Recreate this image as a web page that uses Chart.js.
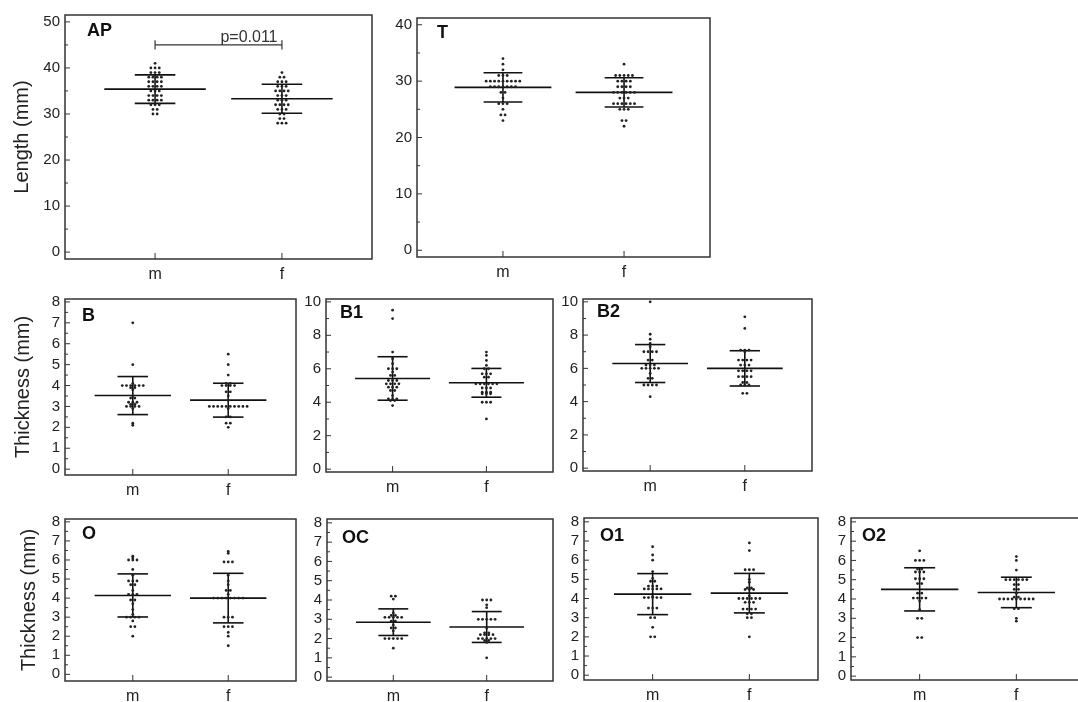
<!DOCTYPE html>
<html>
<head>
<meta charset="utf-8">
<script src="https://cdn.jsdelivr.net/npm/chart.js@4.4.1/dist/chart.umd.min.js"></script>
<style>
  body { margin: 0; background: #fff; width: 1078px; height: 702px; overflow: hidden; position: relative; }
  canvas { position: absolute; }
</style>
</head>
<body>
<script>
// groups on the x axis
const groups = ['m', 'f'];

// tick labels
const ticksLength = [0, 10, 20, 30, 40, 50];
const ticksT = [0, 10, 20, 30, 40];
const ticksB = [0, 1, 2, 3, 4, 5, 6, 7, 8];
const ticksB1 = [0, 2, 4, 6, 8, 10];
const ticksO = [0, 1, 2, 3, 4, 5, 6, 7, 8];

// AP
const apM = [41, 40, 40, 40, 39, 39, 39, 38, 38, 38, 38, 37, 37, 37, 37, 36, 36, 36, 36, 35, 35, 35, 34, 34, 34, 34, 33, 33, 33, 33, 32, 32, 32, 31, 31, 30, 30];
const apF = [39, 38, 38, 37, 37, 37, 36, 36, 36, 35, 35, 35, 35, 34, 34, 34, 33, 33, 33, 32, 32, 32, 32, 31, 31, 31, 30, 30, 29, 29, 28, 28, 28];
const apMean = [35.4, 33.3];
const apSD = [3.1, 3.15];
const apBracketY = 45;
const apP = 'p=0.011';

// T
const tM = [34, 33, 32, 31, 31, 31, 30, 30, 30, 30, 30, 30, 30, 30, 30, 29, 29, 29, 29, 29, 29, 29, 28, 28, 27, 26, 26, 26, 25, 24, 24, 23];
const tF = [33, 31, 31, 31, 31, 31, 30, 30, 30, 30, 29, 29, 29, 29, 28, 28, 28, 28, 28, 28, 27, 27, 27, 26, 26, 26, 26, 26, 26, 25, 25, 25, 23, 23, 22];
const tMean = [28.9, 28.0];
const tSD = [2.6, 2.6];

// B
const bM = [7.0, 5.0, 4.1, 4.0, 4.0, 4.0, 4.0, 4.0, 4.0, 3.9, 3.9, 3.8, 3.5, 3.4, 3.4, 3.2, 3.2, 3.2, 3.1, 3.1, 3.0, 3.0, 3.0, 3.0, 2.9, 2.2, 2.1];
const bF = [5.5, 5.0, 4.5, 4.1, 4.1, 4.0, 4.0, 4.0, 4.0, 3.7, 3.7, 3.5, 3.3, 3.0, 3.0, 3.0, 3.0, 3.0, 3.0, 3.0, 3.0, 3.0, 3.0, 2.9, 2.5, 2.5, 2.2, 2.2, 2.0];
const bMean = [3.52, 3.3];
const bSD = [0.91, 0.81];

// B1
const b1M = [9.5, 9.0, 7.0, 6.6, 6.3, 6.0, 6.0, 6.0, 5.8, 5.6, 5.6, 5.3, 5.3, 5.3, 5.1, 5.1, 5.1, 5.1, 4.9, 4.9, 4.9, 4.7, 4.7, 4.4, 4.2, 4.2, 4.2, 4.1, 4.1, 3.8];
const b1F = [7.0, 6.8, 6.5, 6.2, 6.0, 6.0, 5.7, 5.7, 5.7, 5.5, 5.5, 5.1, 5.1, 5.1, 5.1, 5.1, 5.1, 4.85, 4.85, 4.85, 4.6, 4.6, 4.6, 4.5, 4.5, 4.5, 4.0, 4.0, 4.0, 3.0];
const b1Mean = [5.42, 5.16];
const b1SD = [1.3, 0.86];

// B2
const b2M = [10.0, 8.05, 7.75, 7.5, 7.3, 7.0, 7.0, 7.0, 7.0, 6.5, 6.5, 6.2, 6.2, 6.2, 6.0, 6.0, 6.0, 6.0, 6.0, 5.7, 5.4, 5.4, 5.0, 5.0, 5.0, 5.0, 4.3];
const b2F = [9.1, 8.4, 7.1, 7.1, 7.1, 7.0, 6.5, 6.5, 6.5, 6.5, 6.2, 6.2, 6.2, 5.85, 5.85, 5.85, 5.85, 5.5, 5.5, 5.5, 5.5, 5.15, 5.15, 5.0, 5.0, 5.0, 4.5, 4.5];
const b2Mean = [6.29, 6.0];
const b2SD = [1.14, 1.06];

// O
const oM = [6.2, 6.1, 6.0, 6.0, 6.0, 5.5, 5.2, 4.9, 4.9, 4.9, 4.7, 4.7, 4.4, 4.2, 4.2, 4.2, 3.9, 3.9, 3.7, 3.4, 3.15, 3.0, 3.0, 3.0, 3.0, 2.8, 2.5, 2.5, 2.0];
const oF = [6.45, 6.35, 5.9, 5.9, 5.9, 5.2, 4.9, 4.7, 4.4, 4.4, 4.2, 4.0, 4.0, 4.0, 4.0, 4.0, 4.0, 4.0, 4.0, 3.0, 3.0, 3.0, 2.5, 2.5, 2.5, 2.2, 2.0, 1.5];
const oMean = [4.14, 4.0];
const oSD = [1.13, 1.3];

// OC
const ocM = [4.2, 4.2, 4.05, 3.33, 3.2, 3.2, 3.1, 3.1, 3.1, 3.1, 3.1, 2.9, 2.9, 2.7, 2.55, 2.55, 2.4, 2.0, 2.0, 2.0, 2.0, 2.0, 1.5];
const ocF = [4.0, 4.0, 4.0, 3.75, 3.6, 3.0, 3.0, 3.0, 3.0, 3.0, 2.55, 2.3, 2.3, 2.2, 2.2, 2.2, 2.2, 2.0, 2.0, 2.0, 2.0, 2.0, 1.9, 1.9, 1.8, 1.0];
const ocMean = [2.85, 2.6];
const ocSD = [0.69, 0.8];

// O1
const o1M = [6.7, 6.27, 6.0, 5.4, 5.05, 4.9, 4.9, 4.65, 4.65, 4.65, 4.5, 4.5, 4.5, 4.5, 4.5, 4.1, 4.05, 4.05, 4.05, 4.05, 4.05, 3.5, 3.5, 3.5, 3.0, 3.0, 2.5, 2.0, 2.0];
const o1F = [6.9, 6.5, 5.5, 5.5, 5.5, 5.0, 4.85, 4.55, 4.55, 4.47, 4.47, 4.47, 4.13, 4.0, 4.0, 4.0, 4.0, 4.0, 4.0, 3.8, 3.8, 3.8, 3.45, 3.45, 3.45, 3.45, 3.2, 3.2, 3.0, 3.0, 2.0];
const o1Mean = [4.23, 4.28];
const o1SD = [1.07, 1.03];

// O2
const o2M = [6.5, 6.0, 6.0, 6.0, 5.55, 5.55, 5.4, 5.4, 5.4, 5.05, 5.05, 5.05, 4.8, 4.8, 4.3, 4.3, 4.05, 4.05, 4.05, 4.05, 3.9, 3.45, 3.0, 3.0, 2.0, 2.0];
const o2F = [6.2, 6.0, 5.5, 5.0, 5.0, 5.0, 5.0, 5.0, 5.0, 4.75, 4.75, 4.5, 4.5, 4.3, 4.1, 4.1, 4.0, 4.0, 4.0, 4.0, 4.0, 4.0, 4.0, 4.0, 4.0, 3.5, 3.5, 3.0, 2.85];
const o2Mean = [4.5, 4.34];
const o2SD = [1.12, 0.79];

const X_MIN = 0.29, X_MAX = 2.71;
const DOT = 4.2; // px between dots of one row
const INK = '#222';
const FONT = "'Liberation Sans', Arial, sans-serif";

// frame = [left, top, right, bottom] in page pixels
const panels = [
    { label: 'AP', m: apM, f: apF, mean: apMean, sd: apSD, ticks: ticksLength, ymin: -1.5, ymax: 51.5, frame: [65, 9, 372, 259], axW: 65, title: 'Length (mm)', titlePad: 10, lab: [22, 16], note: true },
    { label: 'T', m: tM, f: tF, mean: tMean, sd: tSD, ticks: ticksT, ymin: -1.2, ymax: 41.2, frame: [417, 12, 710, 257], axW: 36, lab: [20, 15] },
    { label: 'B', m: bM, f: bF, mean: bMean, sd: bSD, ticks: ticksB, ymin: -0.28, ymax: 8.14, frame: [65, 293, 296, 475], axW: 65, title: 'Thickness (mm)', titlePad: 11, lab: [17, 17] },
    { label: 'B1', m: b1M, f: b1F, mean: b1Mean, sd: b1SD, ticks: ticksB1, ymin: -0.17, ymax: 10.17, frame: [326, 293, 553, 472], axW: 30, lab: [14, 14] },
    { label: 'B2', m: b2M, f: b2F, mean: b2Mean, sd: b2SD, ticks: ticksB1, ymin: -0.17, ymax: 10.17, frame: [583, 293, 812, 471], axW: 30, lab: [14, 13] },
    { label: 'O', m: oM, f: oF, mean: oMean, sd: oSD, ticks: ticksO, ymin: -0.35, ymax: 8.15, frame: [65, 513, 296, 681], axW: 65, title: 'Thickness (mm)', titlePad: 17, lab: [17, 15] },
    { label: 'OC', m: ocM, f: ocF, mean: ocMean, sd: ocSD, ticks: ticksO, ymin: -0.2, ymax: 8.2, frame: [327, 513, 553, 681], axW: 30, lab: [15, 19] },
    { label: 'O1', m: o1M, f: o1F, mean: o1Mean, sd: o1SD, ticks: ticksO, ymin: -0.25, ymax: 8.2, frame: [584, 512, 818, 680], axW: 30, lab: [16, 18] },
    { label: 'O2', m: o2M, f: o2F, mean: o2Mean, sd: o2SD, ticks: ticksO, ymin: -0.2, ymax: 8.2, frame: [851, 512, 1085, 680], axW: 30, lab: [11, 18] }
];

// dots with the same value sit side by side, centred on the group
const swarm = (vals, center, unitPx) => {
    const counts = {};
    const seen = {};
    vals.forEach(v => counts[v] = (counts[v] || 0) + 1);
    return vals.map(v => {
        seen[v] = seen[v] === undefined ? 0 : seen[v] + 1;
        return { x: center + (seen[v] - (counts[v] - 1) / 2) * DOT / unitPx, y: v };
    });
};

const seg = (x1, y1, x2, y2, w, color) => ({
    data: [{ x: x1, y: y1 }, { x: x2, y: y2 }],
    showLine: true,
    pointRadius: 0,
    borderColor: color || '#111',
    borderWidth: w || 1.6
});

const framePlugin = {
    id: 'frame',
    afterDraw(chart, args, opts) {
        const { ctx, chartArea: a, scales: { x, y } } = chart;
        ctx.save();
        ctx.strokeStyle = '#333';
        ctx.lineWidth = 1.5;
        ctx.strokeRect(a.left, a.top, a.right - a.left, a.bottom - a.top);
        ctx.lineWidth = 1;
        ctx.beginPath();
        const t = opts.ticks;
        t.forEach((v, i) => {
            const py = y.getPixelForValue(v);
            ctx.moveTo(a.left, py);
            ctx.lineTo(a.left + 5, py);
            if (i < t.length - 1) {
                const my = y.getPixelForValue((v + t[i + 1]) / 2);
                ctx.moveTo(a.left, my);
                ctx.lineTo(a.left + 3, my);
            }
        });
        [1, 2].forEach(v => {
            const px = x.getPixelForValue(v);
            ctx.moveTo(px, a.bottom);
            ctx.lineTo(px, a.bottom - 6);
        });
        ctx.stroke();

        ctx.fillStyle = '#111';
        ctx.font = 'bold 18px ' + FONT;
        ctx.textBaseline = 'middle';
        ctx.textAlign = 'left';
        ctx.fillText(opts.label, a.left + opts.lab[0], a.top + opts.lab[1]);

        if (opts.note) {
            ctx.font = '16px ' + FONT;
            ctx.fillStyle = '#333';
            ctx.textAlign = 'center';
            ctx.textBaseline = 'alphabetic';
            ctx.fillText(apP, x.getPixelForValue(1.74), y.getPixelForValue(apBracketY) - 3);
        }
        ctx.restore();
    }
};

const makePanel = (p) => {
    const [l, t, r, b] = p.frame;
    const padT = 8, padR = 6, axH = 30;
    const w = r - l + p.axW + padR;
    const h = b - t + padT + axH;
    const canvas = document.createElement('canvas');
    canvas.style.left = (l - p.axW) + 'px';
    canvas.style.top = (t - padT) + 'px';
    canvas.style.width = w + 'px';
    canvas.style.height = h + 'px';
    canvas.width = w;
    canvas.height = h;
    document.body.appendChild(canvas);

    const unitPx = (r - l) / (X_MAX - X_MIN);
    const datasets = [];
    [p.m, p.f].forEach((vals, i) => {
        datasets.push({
            data: swarm(vals, i + 1, unitPx),
            pointRadius: 1.4,
            pointBorderWidth: 0,
            pointBackgroundColor: INK,
            showLine: false
        });
    });
    p.mean.forEach((mu, i) => {
        const c = i + 1;
        const s = p.sd[i];
        datasets.push(seg(c - 0.4, mu, c + 0.4, mu));
        datasets.push(seg(c - 0.16, mu + s, c + 0.16, mu + s));
        datasets.push(seg(c - 0.16, mu - s, c + 0.16, mu - s));
        datasets.push(seg(c, mu - s, c, mu + s));
    });
    if (p.note) {
        datasets.push(seg(1, apBracketY, 2, apBracketY, 1.2, '#333'));
        datasets.push(seg(1, apBracketY - 1, 1, apBracketY + 1, 1.2, '#333'));
        datasets.push(seg(2, apBracketY - 1, 2, apBracketY + 1, 1.2, '#333'));
    }

    new Chart(canvas, {
        type: 'scatter',
        data: { datasets: datasets },
        plugins: [framePlugin],
        options: {
            responsive: false,
            animation: false,
            devicePixelRatio: 1,
            layout: { padding: { top: padT, right: padR, left: 0, bottom: 0 } },
            scales: {
                x: {
                    type: 'linear',
                    min: X_MIN,
                    max: X_MAX,
                    grid: { display: false, drawTicks: false },
                    border: { display: false },
                    afterBuildTicks: s => { s.ticks = [{ value: 1 }, { value: 2 }]; },
                    afterFit: s => { s.height = axH; },
                    ticks: {
                        autoSkip: false,
                        callback: v => groups[v - 1],
                        color: '#222',
                        padding: 6,
                        font: { family: FONT, size: 16 }
                    }
                },
                y: {
                    min: p.ymin,
                    max: p.ymax,
                    grid: { display: false, drawTicks: false },
                    border: { display: false },
                    afterBuildTicks: s => { s.ticks = p.ticks.map(v => ({ value: v })); },
                    afterFit: s => { s.width = p.axW; },
                    ticks: {
                        autoSkip: false,
                        color: '#222',
                        padding: 5,
                        font: { family: FONT, size: 15 }
                    },
                    title: {
                        display: !!p.title,
                        text: p.title || '',
                        color: '#222',
                        padding: { top: p.titlePad || 0, bottom: 0 },
                        font: { family: FONT, size: 20 }
                    }
                }
            },
            plugins: {
                legend: { display: false },
                tooltip: { enabled: false },
                frame: { ticks: p.ticks, label: p.label, lab: p.lab, note: p.note }
            }
        }
    });
};

panels.forEach(makePanel);
</script>
</body>
</html>
